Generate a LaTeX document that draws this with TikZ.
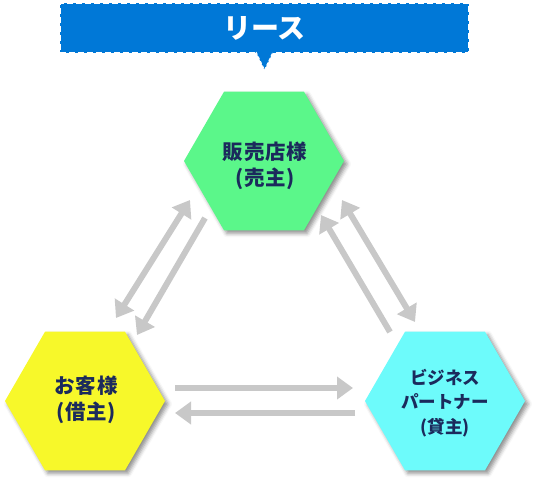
\documentclass[tikz,border=0pt]{standalone}
\usepackage{fontspec}
\newfontfamily\jp{Noto Sans CJK JP}
\usetikzlibrary{arrows.meta,shapes.geometric,shadows.blur}
\definecolor{bannerblue}{HTML}{0078D7}
\definecolor{hexgreen}{HTML}{5BF78A}
\definecolor{hexyellow}{HTML}{F7F82A}
\definecolor{hexcyan}{HTML}{6DFBFB}
\definecolor{navy}{HTML}{1B2A5C}
\definecolor{arrowgray}{HTML}{C8C8C8}
\begin{document}
\begin{tikzpicture}[x=1pt,y=-1pt,
  hexnode/.style={regular polygon, regular polygon sides=6, minimum size=160pt,
    inner sep=0pt,
    blur shadow={shadow xshift=3pt, shadow yshift=-3pt, shadow blur radius=4pt, shadow opacity=45}},
  bigtxt/.style={align=center, text=navy, inner sep=0pt,
    font=\jp\bfseries\fontsize{20.5pt}{26pt}\selectfont\addfontfeature{LetterSpace=4}},
  smalltxt/.style={align=center, text=navy, inner sep=0pt,
    font=\jp\bfseries\fontsize{17.5pt}{24.5pt}\selectfont},
  flow/.style={draw=arrowgray, line width=6pt, -{Triangle[length=16pt,width=22pt]}},
  flowboth/.style={draw=arrowgray, line width=6pt, {Triangle[length=16pt,width=22pt]}-{Triangle[length=16pt,width=22pt]}},
  banner/.style={fill=bannerblue, draw=white, line width=2.5pt, dash pattern=on 6pt off 3pt,
    minimum width=409pt, minimum height=50pt, inner sep=0pt, text=white,
    font=\jp\bfseries\fontsize{28pt}{30pt}\selectfont}
]
\useasboundingbox (0,0) rectangle (534,481);

% banner
\node[banner] (title) at (264.5,28) {リース};
\coordinate (pl) at (256,52);
\coordinate (pr) at (273,52);
\coordinate (pt) at (264.5,70);
\fill[bannerblue] (pl) -- (pt) -- (pr) -- cycle;
\draw[white, line width=1pt, dash pattern=on 3pt off 2pt] (pl) -- (pt) -- (pr);

% hexagons
\node[hexnode, fill=hexgreen] (seller) at (264,161) {};
\node[hexnode, fill=hexyellow] (customer) at (85,401) {};
\node[hexnode, fill=hexcyan] (partner) at (445,401) {};
\node[bigtxt] (sellertext) at (265,166) {販売店様\\(売主)};
\node[bigtxt] (customertext) at (86,400) {お客様\\(借主)};
\node[smalltxt] (partnertext) at (445,403) {ビジネス\\パートナー\\(貸主)};

% arrow end points
\coordinate (l1a) at (190,200);
\coordinate (l1b) at (116,318);
\coordinate (l2a) at (205,218);
\coordinate (l2b) at (137,335);
\coordinate (r1a) at (390,332);
\coordinate (r1b) at (321,215);
\coordinate (r2a) at (342,200);
\coordinate (r2b) at (415,322);
\coordinate (b1a) at (175,388);
\coordinate (b1b) at (353,388);
\coordinate (b2a) at (355,413);
\coordinate (b2b) at (175,413);

\draw[flowboth] (l1a) -- (l1b);
\draw[flow] (l2a) -- (l2b);
\draw[flow] (r1a) -- (r1b);
\draw[flowboth] (r2a) -- (r2b);
\draw[flow] (b1a) -- (b1b);
\draw[flow] (b2a) -- (b2b);
\end{tikzpicture}
\end{document}
